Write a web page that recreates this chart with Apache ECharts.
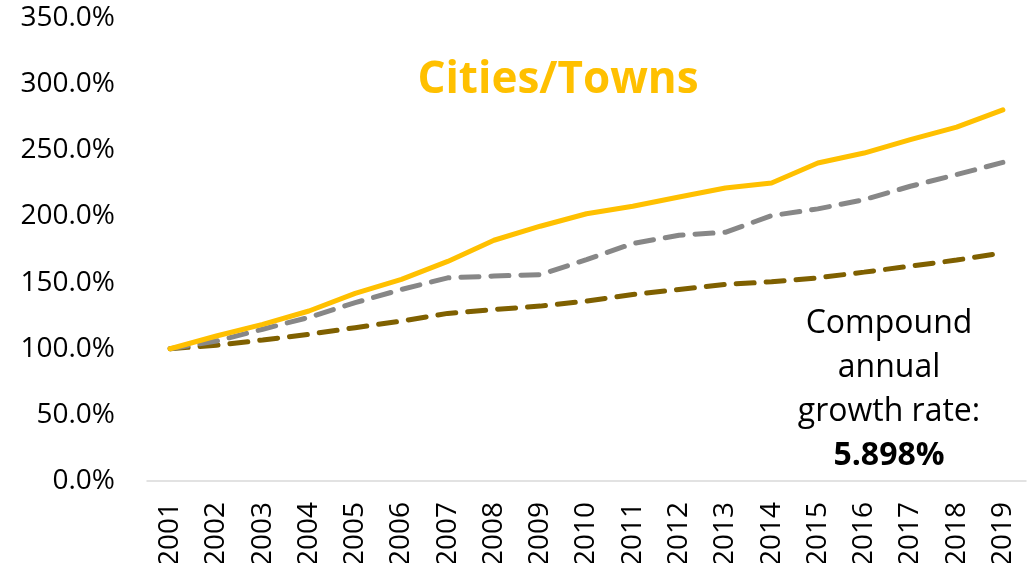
<!DOCTYPE html>
<html>
<head>
<meta charset="utf-8">
<title>Cities/Towns</title>
<script src="https://cdn.jsdelivr.net/npm/echarts@6/dist/echarts.min.js"></script>
<style>
  html, body { margin: 0; padding: 0; background: #fff; }
  #chart { width: 1028px; height: 563px; }
</style>
</head>
<body>
<div id="chart"></div>
<script>
// years on the category axis
const years = ['2001', '2002', '2003', '2004', '2005', '2006', '2007', '2008', '2009', '2010',
  '2011', '2012', '2013', '2014', '2015', '2016', '2017', '2018', '2019']

// index values, 2001 = 100%
const citiesTowns = [100, 109.6, 118.4, 128.5, 141.8, 152.4, 166, 182, 192.6, 202,
  207.7, 214.7, 221.5, 225.3, 240.4, 247.9, 258, 267.5, 280.6]
const greySeries = [100, 105.8, 114.7, 123.7, 134.8, 144.8, 153.6, 154.9, 156, 167.4,
  179.5, 185.8, 188, 200.6, 205.7, 212.7, 222.8, 231.6, 240.9]
const brownSeries = [100, 102.6, 106.6, 110.9, 115.9, 120.9, 126.7, 129.7, 132.2, 136,
  141, 144.8, 148.6, 150.6, 153.6, 157.9, 162.4, 167, 172.5]

const yTicks = { min: 0, max: 350, interval: 50 }
const growthRate = '5.898%'

const font = '"Open Sans", "Liberation Sans", sans-serif'

const chart = echarts.init(document.getElementById('chart'))
chart.setOption({
  animation: false,
  grid: {
    top: 18,
    bottom: 82,
    left: 147,
    right: 2,
    containLabel: false,
    outerBoundsMode: 'none'
  },
  xAxis: {
    type: 'category',
    data: years,
    boundaryGap: true,
    axisLine: { show: true, lineStyle: { color: '#d9d9d9', width: 1.5 } },
    axisTick: { show: false },
    axisLabel: {
      rotate: 90,
      margin: 21,
      color: '#000',
      fontSize: 28,
      fontFamily: font
    }
  },
  yAxis: {
    type: 'value',
    min: yTicks.min,
    max: yTicks.max,
    interval: yTicks.interval,
    axisLine: { show: false },
    axisTick: { show: false },
    splitLine: { show: false },
    axisLabel: {
      margin: 32,
      color: '#000',
      fontSize: 28,
      fontFamily: font,
      formatter: v => v.toFixed(1) + '%'
    }
  },
  series: [{
    type: 'line',
    data: brownSeries,
    showSymbol: false,
    lineStyle: { color: '#7f6000', width: 5, type: [18, 12], cap: 'round' }
  }, {
    type: 'line',
    data: greySeries,
    showSymbol: false,
    lineStyle: { color: '#878787', width: 5, type: [18, 12], cap: 'round' }
  }, {
    type: 'line',
    data: citiesTowns,
    showSymbol: false,
    lineStyle: { color: '#ffc000', width: 5, cap: 'round', join: 'round' }
  }],
  graphic: [{
    type: 'text',
    x: 558,
    y: 58,
    style: {
      text: 'Cities/Towns',
      fill: '#ffc000',
      font: 'bold 44px ' + font,
      align: 'center'
    }
  }, {
    type: 'text',
    x: 889,
    y: 302,
    style: {
      text: 'Compound\nannual\ngrowth rate:\n{b|' + growthRate + '}',
      fill: '#000',
      fontSize: 32,
      fontFamily: font,
      lineHeight: 44,
      align: 'center',
      rich: {
        b: { fontSize: 32, fontWeight: 'bold', fontFamily: font, lineHeight: 44 }
      }
    }
  }]
})
</script>
</body>
</html>
